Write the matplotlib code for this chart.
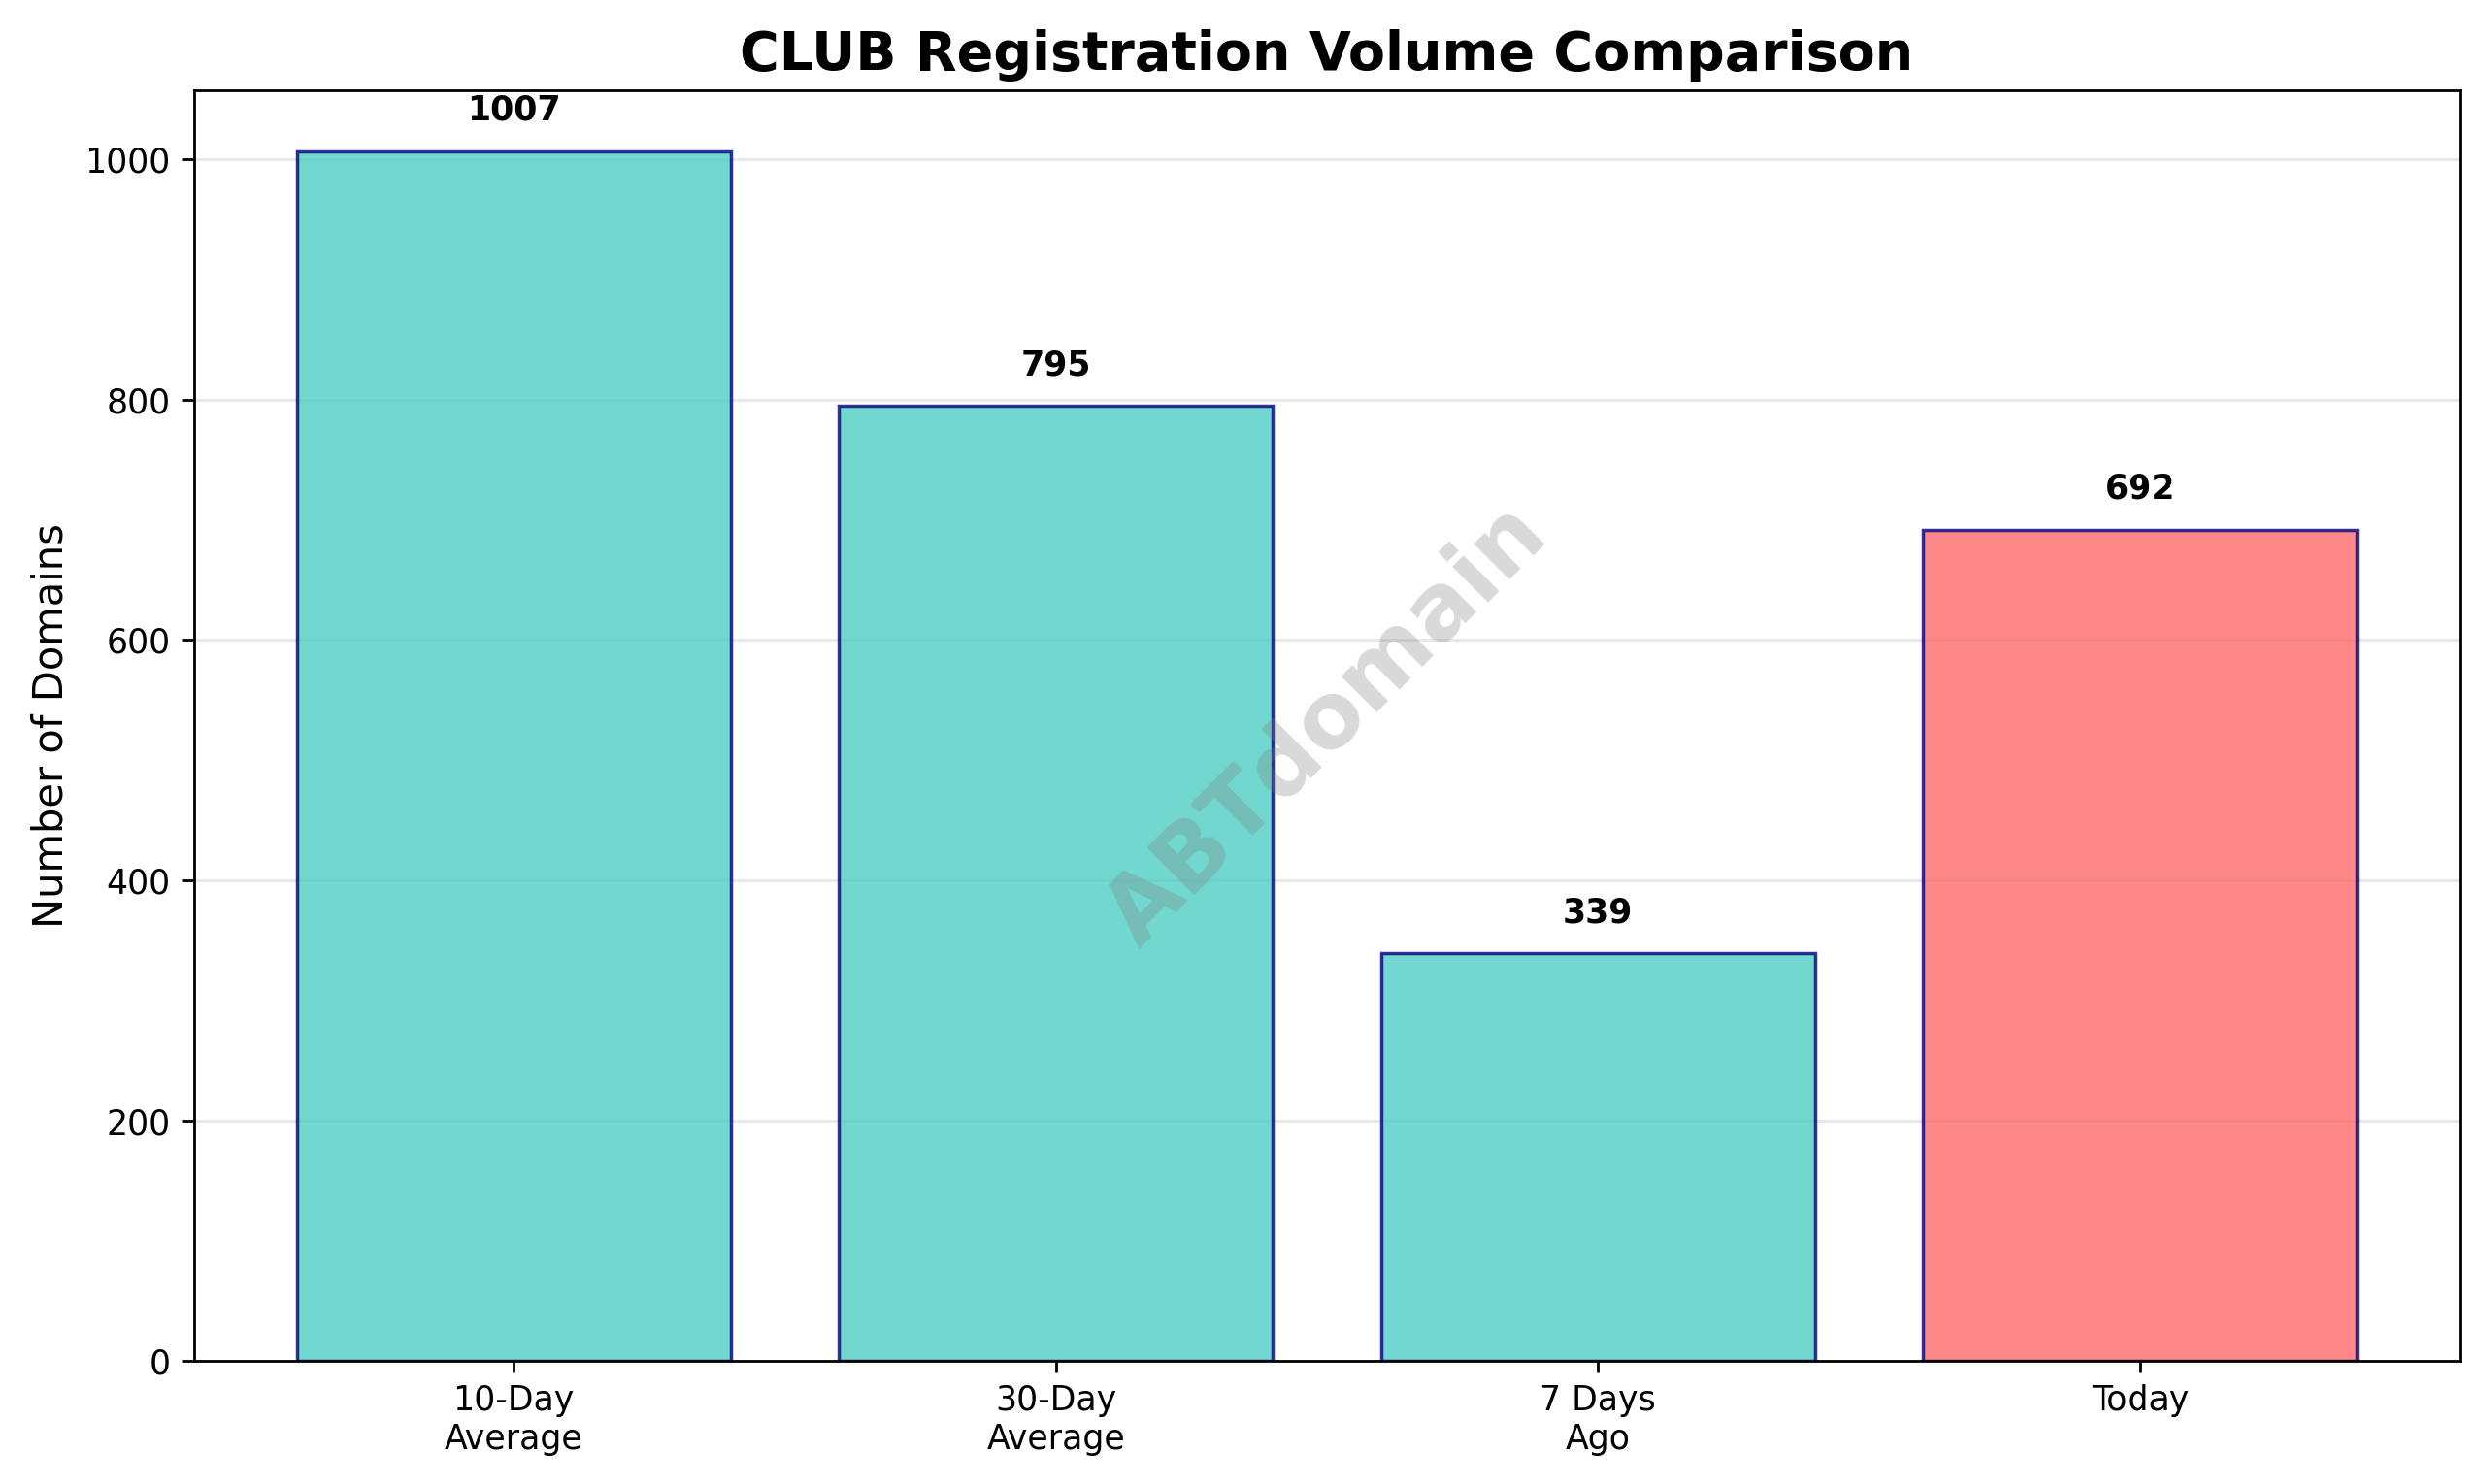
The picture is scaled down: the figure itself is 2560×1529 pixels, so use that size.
import matplotlib
matplotlib.use("Agg")
import matplotlib.pyplot as plt

categories = ["10-Day\nAverage", "30-Day\nAverage", "7 Days\nAgo", "Today"]
values = [1007, 795, 339, 692]
colors = ["#4ecdc4", "#4ecdc4", "#4ecdc4", "#ff6b6b"]

fig, ax = plt.subplots(figsize=(10.24, 6.116), dpi=250)
bars = ax.bar(categories, values, color=colors, alpha=0.8, edgecolor="navy", linewidth=1)
for b, v in zip(bars, values):
    ax.text(b.get_x() + b.get_width()/2, v + 20, str(v), ha="center", va="bottom", fontweight="bold", fontsize=10)
ax.set_title("CLUB Registration Volume Comparison", fontsize=16, fontweight="bold")
ax.set_ylabel("Number of Domains", fontsize=12)
ax.grid(axis="y", alpha=0.3)
ax.set_axisbelow(True)
ax.text(0.5, 0.5, "ABTdomain", transform=ax.transAxes, fontsize=27, color="gray", alpha=0.3,
        ha="center", va="center", rotation=45, fontweight="bold")
fig.subplots_adjust(left=0.078, right=0.99, top=0.939, bottom=0.083)
plt.savefig("out.png", dpi=250)
